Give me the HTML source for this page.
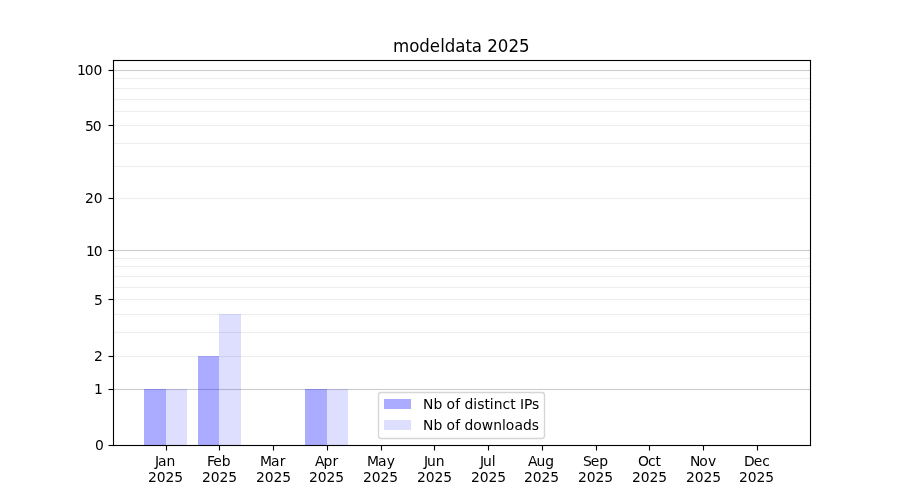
<!DOCTYPE html>
<html lang="en"><head><meta charset="utf-8"><title>modeldata 2025</title>
<style>html,body{margin:0;padding:0;background:#fff;width:900px;height:500px;overflow:hidden}svg{display:block}text{font-family:"DejaVu Sans","Liberation Sans",sans-serif;fill:#000}</style>
</head><body>
<svg width="900" height="500" viewBox="0 0 900 500">
<rect x="0" y="0" width="900" height="500" fill="#ffffff"/>
<g id="grid">
<rect x="113.5" y="388.9444" width="697" height="1.1112" fill="#cccccc"/>
<rect x="113.5" y="249.9444" width="697" height="1.1112" fill="#cccccc"/>
<rect x="113.5" y="69.9444" width="697" height="1.1112" fill="#cccccc"/>
<rect x="113.5" y="355.9444" width="697" height="1.1112" fill="#eeeeee"/>
<rect x="113.5" y="331.9444" width="697" height="1.1112" fill="#eeeeee"/>
<rect x="113.5" y="313.9444" width="697" height="1.1112" fill="#eeeeee"/>
<rect x="113.5" y="298.9444" width="697" height="1.1112" fill="#eeeeee"/>
<rect x="113.5" y="286.9444" width="697" height="1.1112" fill="#eeeeee"/>
<rect x="113.5" y="275.9444" width="697" height="1.1112" fill="#eeeeee"/>
<rect x="113.5" y="265.9444" width="697" height="1.1112" fill="#eeeeee"/>
<rect x="113.5" y="257.9444" width="697" height="1.1112" fill="#eeeeee"/>
<rect x="113.5" y="197.9444" width="697" height="1.1112" fill="#eeeeee"/>
<rect x="113.5" y="165.9444" width="697" height="1.1112" fill="#eeeeee"/>
<rect x="113.5" y="142.9444" width="697" height="1.1112" fill="#eeeeee"/>
<rect x="113.5" y="124.9444" width="697" height="1.1112" fill="#eeeeee"/>
<rect x="113.5" y="110.9444" width="697" height="1.1112" fill="#eeeeee"/>
<rect x="113.5" y="98.9444" width="697" height="1.1112" fill="#eeeeee"/>
<rect x="113.5" y="87.9444" width="697" height="1.1112" fill="#eeeeee"/>
<rect x="113.5" y="77.9444" width="697" height="1.1112" fill="#eeeeee"/>
</g>
<g id="bars" shape-rendering="crispEdges">
<rect x="144" y="389" width="22" height="56" fill="#0000ff" fill-opacity="0.33"/>
<rect x="166" y="389" width="21" height="56" fill="#0000ff" fill-opacity="0.13"/>
<rect x="198" y="356" width="21" height="89" fill="#0000ff" fill-opacity="0.33"/>
<rect x="219" y="314" width="22" height="131" fill="#0000ff" fill-opacity="0.13"/>
<rect x="305" y="389" width="22" height="56" fill="#0000ff" fill-opacity="0.33"/>
<rect x="327" y="389" width="21" height="56" fill="#0000ff" fill-opacity="0.13"/>
</g>
<g id="ticks" fill="#000000">
<rect x="165.9444" y="445.5" width="1.1112" height="5"/>
<rect x="218.9444" y="445.5" width="1.1112" height="5"/>
<rect x="272.9444" y="445.5" width="1.1112" height="5"/>
<rect x="326.9444" y="445.5" width="1.1112" height="5"/>
<rect x="380.9444" y="445.5" width="1.1112" height="5"/>
<rect x="433.9444" y="445.5" width="1.1112" height="5"/>
<rect x="487.9444" y="445.5" width="1.1112" height="5"/>
<rect x="541.9444" y="445.5" width="1.1112" height="5"/>
<rect x="595.9444" y="445.5" width="1.1112" height="5"/>
<rect x="648.9444" y="445.5" width="1.1112" height="5"/>
<rect x="702.9444" y="445.5" width="1.1112" height="5"/>
<rect x="756.9444" y="445.5" width="1.1112" height="5"/>
<rect x="108.5" y="444.9444" width="5" height="1.1112"/>
<rect x="108.5" y="388.9444" width="5" height="1.1112"/>
<rect x="108.5" y="355.9444" width="5" height="1.1112"/>
<rect x="108.5" y="298.9444" width="5" height="1.1112"/>
<rect x="108.5" y="249.9444" width="5" height="1.1112"/>
<rect x="108.5" y="197.9444" width="5" height="1.1112"/>
<rect x="108.5" y="124.9444" width="5" height="1.1112"/>
<rect x="108.5" y="69.9444" width="5" height="1.1112"/>
</g>
<g id="spines" fill="#000000">
<rect x="112.9444" y="59.9444" width="1.1112" height="386.1112"/>
<rect x="809.9444" y="59.9444" width="1.1112" height="386.1112"/>
<rect x="112.9444" y="59.9444" width="698.1112" height="1.1112"/>
<rect x="112.9444" y="444.9444" width="698.1112" height="1.1112"/>
</g>
<g id="xlabels">
<text x="155 158 166.5" y="466" font-size="13.8889">Jan</text><text x="148 156.75 165.5 174.25" y="482" font-size="13.8889">2025</text>
<text x="207 213.25 221.75" y="466" font-size="13.8889">Feb</text><text x="202 210.75 219.5 228.25" y="482" font-size="13.8889">2025</text>
<text x="260 271 279.75" y="466" font-size="13.8889">Mar</text><text x="256 264.75 273.5 282.25" y="482" font-size="13.8889">2025</text>
<text x="315 323.5 332.5" y="466" font-size="13.8889">Apr</text><text x="309 317.75 326.5 335.25" y="482" font-size="13.8889">2025</text>
<text x="367 378 386.75" y="466" font-size="13.8889">May</text><text x="363 371.75 380.5 389.25" y="482" font-size="13.8889">2025</text>
<text x="424 427 435.75" y="466" font-size="13.8889">Jun</text><text x="417 425.75 434.5 443.25" y="482" font-size="13.8889">2025</text>
<text x="480 483 491.75" y="466" font-size="13.8889">Jul</text><text x="471 479.75 488.5 497.25" y="482" font-size="13.8889">2025</text>
<text x="528 536.5 545.25" y="466" font-size="13.8889">Aug</text><text x="524 532.75 541.5 550.25" y="482" font-size="13.8889">2025</text>
<text x="583 590.75 599.25" y="466" font-size="13.8889">Sep</text><text x="578 586.75 595.5 604.25" y="482" font-size="13.8889">2025</text>
<text x="638 648 655.5" y="466" font-size="13.8889">Oct</text><text x="632 640.75 649.5 658.25" y="482" font-size="13.8889">2025</text>
<text x="690 699.25 708" y="466" font-size="13.8889">Nov</text><text x="686 694.75 703.5 712.25" y="482" font-size="13.8889">2025</text>
<text x="744 753.75 762.25" y="466" font-size="13.8889">Dec</text><text x="739 747.75 756.5 765.25" y="482" font-size="13.8889">2025</text>
</g>
<g id="ylabels">
<text x="95" y="450" font-size="13.8889">0</text>
<text x="94" y="394" font-size="13.8889">1</text>
<text x="94" y="361" font-size="13.8889">2</text>
<text x="94" y="305" font-size="13.8889">5</text>
<text x="86 93.75" y="256" font-size="13.8889">10</text>
<text x="85 93.75" y="203" font-size="13.8889">20</text>
<text x="85 92.75" y="131" font-size="13.8889">50</text>
<text x="77 84.75 93.5" y="75" font-size="13.8889">100</text>
</g>
<g transform="translate(0,52) scale(1,1.05) translate(0,-52)"><text x="393 409.25 419.25 429.75 440.25 444.75 455.25 465.5 471.75 482 487.25 497.75 508.5 519" y="52" font-size="16.6667">modeldata 2025</text></g>
<g id="legend">
<rect x="378.5" y="392.5" width="166" height="46" rx="2.78" ry="2.78" fill="#ffffff" fill-opacity="0.8" stroke="#cccccc" stroke-opacity="0.8" stroke-width="1.3889"/>
<rect x="384" y="399" width="27" height="10" fill="#0000ff" fill-opacity="0.33" shape-rendering="crispEdges"/>
<rect x="384" y="420" width="27" height="10" fill="#0000ff" fill-opacity="0.13" shape-rendering="crispEdges"/>
<text x="423 433.5 442.25 446.5 455.25 460 464.5 473.25 477.25 484.5 489.75 493.75 502.5 510.25 515.5 520 524 532" y="409" font-size="13.8889">Nb of distinct IPs</text>
<text x="423 433.5 442.25 446.5 455.25 460 464.5 473.25 481.75 493.25 502 505.75 514.5 523 531.75" y="430" font-size="13.8889">Nb of downloads</text>
</g>
</svg></body></html>
